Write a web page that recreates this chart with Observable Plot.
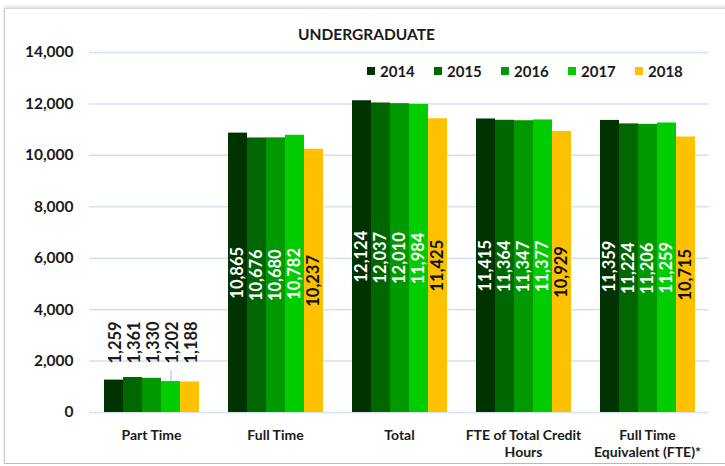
<!DOCTYPE html>
<html>
<head>
<meta charset="utf-8">
<script src="https://cdn.jsdelivr.net/npm/d3@7"></script>
<script src="https://cdn.jsdelivr.net/npm/@observablehq/plot@0.6"></script>
<style>
  html, body { margin: 0; padding: 0; background: #fff; }
  #wrap { position: relative; width: 725px; height: 466px; overflow: hidden; font-family: Lato, "Open Sans", sans-serif; }
  #frame { position: absolute; left: 4px; top: 8px; width: 740px; height: 454px; border-left: 1px solid #c8c8c8; border-bottom: 1px solid #b8b8b8; border-top: 1px solid #d8d8d8; box-shadow: 0 -2px 3px rgba(0,0,0,0.12); }
  #title { position: absolute; left: 0; width: 733px; top: 25px; text-align: center; font-weight: bold; font-size: 15.5px; color: #1a1a1a; }
  #legend { position: absolute; top: 62px; left: 367px; display: flex; }
  .item { width: 67px; display: flex; align-items: center; font-weight: bold; font-size: 15px; color: #1a1a1a; }
  .sw { width: 8px; height: 8px; margin-right: 5px; }
  #chart { position: absolute; left: 0; top: 0; }
</style>
</head>
<body>
<div id="wrap">
  <div id="frame"></div>
  <div id="chart"></div>
  <div id="title">UNDERGRADUATE</div>
  <div id="legend"></div>
</div>
<script>
const categories = ["Part Time", "Full Time", "Total", "FTE of Total Credit Hours", "Full Time Equivalent (FTE)*"];
const categoryLabels = ["Part Time", "Full Time", "Total", "FTE of Total Credit\nHours", "Full Time\nEquivalent (FTE)*"];
const years = ["2014", "2015", "2016", "2017", "2018"];
const values2014 = [1259, 10865, 12124, 11415, 11359];
const values2015 = [1361, 10676, 12037, 11364, 11224];
const values2016 = [1330, 10680, 12010, 11347, 11206];
const values2017 = [1202, 10782, 11984, 11377, 11259];
const values2018 = [1188, 10237, 11425, 10929, 10715];
const yearColors = ["#003300", "#006600", "#009900", "#00CC00", "#FFC000"];
const yTicks = [0, 2000, 4000, 6000, 8000, 10000, 12000, 14000];

const series = [values2014, values2015, values2016, values2017, values2018];
const rows = [];
categories.forEach((c, ci) => {
  years.forEach((y, yi) => {
    rows.push({cat: c, year: y, value: series[yi][ci]});
  });
});
const partRows = rows.filter(d => d.cat === categories[0]);
const otherRows = rows.filter(d => d.cat !== categories[0]);
const partMax = d3.max(partRows, d => d.value);
const leaderRows = partRows.filter(d => d.year === "2017");
const fmt = d3.format(",");

const chart = Plot.plot({
  width: 725,
  height: 466,
  marginLeft: 88,
  marginRight: 15,
  marginTop: 52,
  marginBottom: 54,
  style: {fontFamily: "Lato, 'Open Sans', sans-serif", fontWeight: "bold", fontSize: "14px", color: "#1a1a1a", background: "transparent"},
  fx: {domain: categories, padding: 0},
  x: {domain: years, paddingInner: 0, paddingOuter: 0.68, axis: null},
  y: {domain: [0, 14000]},
  color: {domain: years, range: yearColors},
  marks: [
    Plot.ruleY(yTicks, {stroke: "#D5E0F1", strokeWidth: 1.5}),
    Plot.barY(rows, {fx: "cat", x: "year", y: "value", fill: "year"}),
    Plot.text(otherRows, {
      fx: "cat", x: "year", y: d => d.value / 2,
      text: d => fmt(d.value), rotate: -90, textAnchor: "middle",
      fill: d => d.year === "2018" ? "#111" : "#fff",
      fontSize: 16.5, fontWeight: "bold"
    }),
    Plot.text(partRows, {
      fx: "cat", x: "year", y: () => partMax,
      text: d => fmt(d.value), rotate: -90, textAnchor: "start",
      dy: -14, dx: 2, fill: "#1a1a1a", fontSize: 16.5, fontWeight: "bold"
    }),
    Plot.ruleX(leaderRows, {fx: "cat", x: "year", y1: "value", y2: () => partMax * 1.2, stroke: "#9DC3E6", strokeWidth: 1}),
    Plot.axisY({ticks: yTicks, tickSize: 0, tickPadding: 16, tickFormat: fmt, label: null, fontSize: 15.5, fontWeight: "bold"}),
    Plot.axisFx({anchor: "bottom", tickSize: 0, tickPadding: 15, label: null,
      tickFormat: d => categoryLabels[categories.indexOf(d)], fontSize: 14, fontWeight: "bold", lineHeight: 1.25})
  ]
});
document.getElementById("chart").appendChild(chart);

const legend = document.getElementById("legend");
years.forEach((y, i) => {
  const item = document.createElement("div");
  item.className = "item";
  const sw = document.createElement("span");
  sw.className = "sw";
  sw.style.background = yearColors[i];
  const t = document.createElement("span");
  t.textContent = y;
  item.appendChild(sw);
  item.appendChild(t);
  legend.appendChild(item);
});
</script>
</body>
</html>
